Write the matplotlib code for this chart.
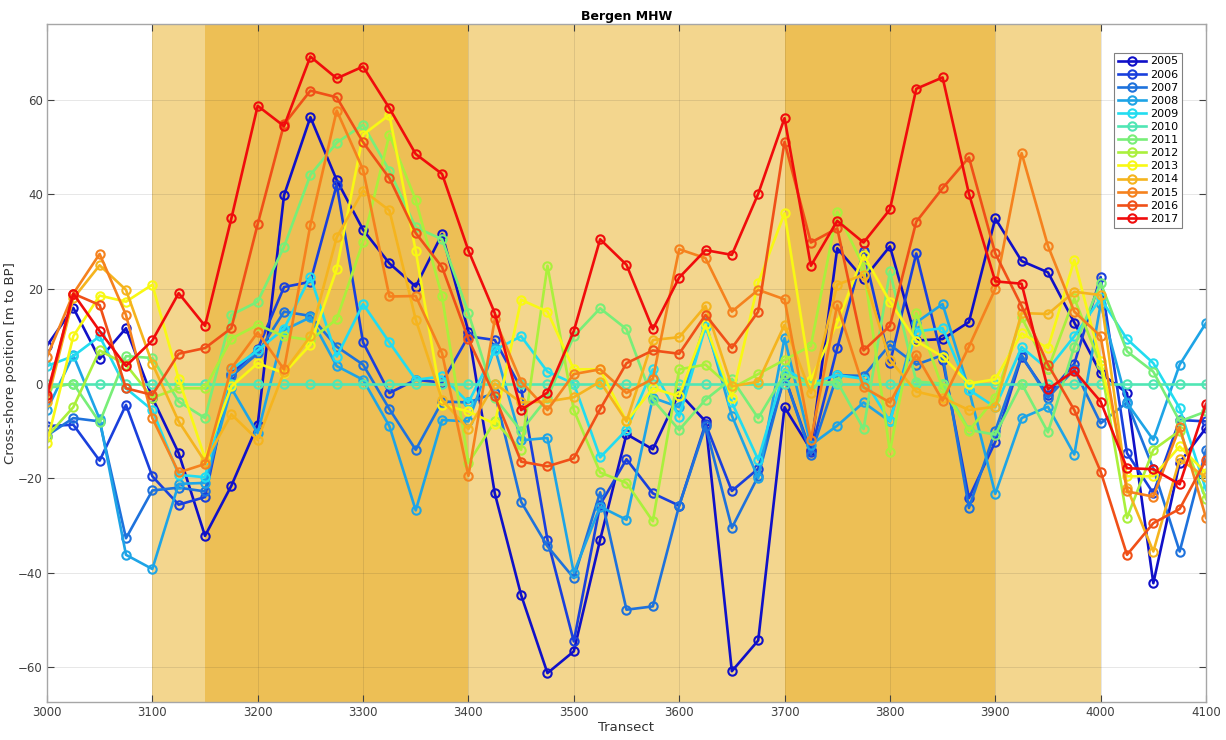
import matplotlib
matplotlib.use("Agg")
import matplotlib.pyplot as plt

# transect numbers along the coast
transects = list(range(3000, 4101, 25))

years = ["2005", "2006", "2007", "2008", "2009", "2010", "2011",
         "2012", "2013", "2014", "2015", "2016", "2017"]

colors = ["#1010c8", "#1a40dc", "#1e72dc", "#1ea4e6", "#22dcf0", "#50e6b4",
          "#78ee78", "#aaf03c", "#f8f814", "#f5b41e", "#f5821e", "#f05018", "#f00c0c"]

# cross-shore MHW position per year [m to BP]
mhw_2005 = [8, 16, 5.2, 11.7, -3, -14.7, -32.2, -21.6, -8.7, 39.8, 56.3, 43, 32.5, 25.4, 20.5,
            31.6, 11, -23.2, -44.7, -61.2, -56.6, -33, -10.7, -13.9, -2, -8, -60.8, -54.3, -5, -14,
            28.6, 22.1, 29, 9.1, 9.4, 13, 34.9, 25.9, 23.5, 12.9, 2.2, -2, -42.2, -16.7, -9.4]
mhw_2006 = [-9, -8.7, -16.3, -4.5, -19.6, -25.6, -24, 2, 7.3, 20.4, 21.5, 42, 8.7, -2, 0.8,
            0.2, 10, 9.2, -1, -33, -54.5, -25.6, -16, -23.2, -25.8, -8.5, -22.7, -18, 1.5, -14.5,
            7.5, 28.1, 4.3, 27.5, 5, -24.2, -12.3, 5.7, -2.4, 4.2, 22.5, -14.7, -23.2, -7.7, -8]
mhw_2007 = [-11, -7.3, -8, -32.7, -22.6, -22, -22.8, 1.5, 6.4, 15.2, 14.3, 7.8, 4, -5.4, -14,
            -3.8, -4, -2, -25, -34.4, -41.1, -23, -47.8, -47.1, -25.8, -9, -30.5, -19.6, 1.5, -15,
            1.8, 1.6, 8.2, 4, 6, -26.3, -10, 6, -3, 3, -8.4, -4, -18, -35.5, -14]
mhw_2008 = [-5.6, 6, -7.5, -36.2, -39.2, -21.2, -21, -1, -10.5, 11.3, 14, 3.7, 0.8, -9, -26.8,
            -7.7, -8, 7.5, -12, -11.5, -40, -26, -28.8, -3, -5, 13, -6.8, -20, 9.6, -13,
            -8.9, -4, -8, 12.9, 16.8, -1.3, -23.3, -7.3, -4.9, -15, 16.8, -4.1, -11.9, 4, 12.8]
mhw_2009 = [3.7, 5.8, 10, -1, -5.6, -19.3, -19.8, 3, 7, 11.6, 22.6, 5.7, 16.8, 8.7, 0.8,
            1.5, -4, 7.1, 10, 2.5, 0, -15.6, -9.8, 3, -7, 12, -4, -16.1, 3, 0,
            1.8, 1, -8, 11, 11.7, -1.3, -5, 7.7, 3, 10, 18, 9.4, 4.3, -5.2, -22.5]
mhw_2010 = [0] * 45
mhw_2011 = [-1, 0, -8.2, 5.8, 5.4, -3.8, -7.3, 14.5, 17.3, 28.9, 44.1, 50.9, 54.7, 45, 33,
            30.5, 14.9, -3, -10, -3, 10, 15.9, 11.5, -3.4, -9.8, -3.4, 1, -7.3, 2, 0,
            0.4, -9.6, 23.7, 0.4, 0, -9.8, -10.8, 0, -10.3, 7.8, 21.3, 6.8, 2.5, -8, -5.9]
mhw_2012 = [-11.2, -5, 7, 4, -3, -1, -1, 9.5, 12.4, 10, 9.2, 13.6, 30, 52.6, 38.8,
            18.4, -16.8, -8, -14, 24.9, -5.6, -18.8, -21, -29.1, 3, 4, -1, 2, 5, 8,
            36.3, 24.7, -14.4, 14.9, -1, -10, -3, 14, 3, 18, 4, -28.4, -14, -10, -24.4]
mhw_2013 = [-12.5, 10, 18.6, 17.3, 20.9, 1, -15.8, -0.6, 4.3, 2.2, 8.2, 24.2, 52.6, 56.8, 28,
            -4.5, -5.9, -8.5, 17.7, 15.2, 3, 3, -8, -1, -2.7, 12.5, -3, 21.3, 36, 0.8,
            12.9, 27.2, 17.3, 9, 5.7, 0, 0.9, 10.6, 7.5, 26.1, 4.7, -19.6, -19.6, -13.3, -18.9]
mhw_2014 = [-4, 18, 25, 19.8, 4.2, -8, -16.5, -6.5, -11.9, 2.5, 10, 30.9, 40.8, 36.6, 13.5,
            -3.5, -9.6, 0, -4, -3.8, -2.9, 0.4, -8, 9.2, 9.8, 16.4, -0.6, 0.4, 12.4, -2,
            20.9, 23, 5, -1.7, -3, -5.6, -4.9, 14.9, 14.7, 19.4, 18.7, -22, -35.5, -16, -19.8]
mhw_2015 = [5.6, 19, 27.4, 14.5, -7.3, -18.8, -17, 3.2, 10.8, 3, 33.5, 57.7, 45.2, 18.4, 18.5,
            6.4, -19.5, 13.6, 0.4, -5.6, 2, 3, -2, 1, 28.4, 26.5, 15.2, 19.8, 17.8, -11.9,
            16.6, -0.8, -4, 6.1, -3.6, 7.8, 20, 48.7, 29.1, 15.2, 10, -22.8, -23.9, -9.2, -28.4]
mhw_2016 = [-3, 19, 16.6, -1, -2.4, 6.3, 7.5, 11.7, 33.7, 54.8, 61.9, 60.5, 51, 43.4, 31.8,
            24.6, 9.4, -2.7, -16.5, -17.5, -15.8, -5.4, 4.3, 7, 6.3, 14.5, 7.5, 15.2, 51.1, 29.8,
            32.8, 7, 12.2, 34.2, 41.3, 47.8, 27.5, 16.4, 4, -5.6, -18.6, -36.2, -29.5, -26.5, -16.1]
mhw_2017 = [-2.4, 19, 11.1, 3.7, 9.1, 19.1, 12.2, 34.9, 58.7, 54.4, 69.1, 64.5, 67, 58.2, 48.5,
            44.3, 28.1, 14.9, -5.6, -1.9, 11.1, 30.5, 25.1, 11.5, 22.4, 28.2, 27.2, 40.1, 56.1, 24.9,
            34.4, 29.8, 36.8, 62.3, 64.7, 40.1, 21.6, 21.1, -1.2, 2.7, -3.8, -17.9, -18.1, -21.3, -4.3]

series = [mhw_2005, mhw_2006, mhw_2007, mhw_2008, mhw_2009, mhw_2010, mhw_2011,
          mhw_2012, mhw_2013, mhw_2014, mhw_2015, mhw_2016, mhw_2017]

# shaded stretches of coast
light_band = (3100, 4000)
dark_bands = [(3150, 3400), (3700, 3900)]

fig = plt.figure(figsize=(12.26, 7.4), dpi=100)
ax = fig.add_axes([0.0383, 0.0514, 0.9454, 0.9162])

ax.axvspan(light_band[0], light_band[1], color="#f3d68e", lw=0, zorder=1)
for b in dark_bands:
    ax.axvspan(b[0], b[1], color="#edbf55", lw=0, zorder=1.1)

for yr, vals, c in zip(years, series, colors):
    ax.plot(transects, vals, "-o", color=c, lw=1.9, ms=6, mfc="none", mew=1.5,
            label=yr, zorder=2)

ax.set_xlim(3000, 4100)
ax.set_ylim(-67.3, 76)
ax.set_xticks(range(3000, 4101, 100))
ax.set_yticks(range(-60, 61, 20))
ax.set_axisbelow("line")
ax.grid(True, color="0.15", alpha=0.13, lw=0.6)
ax.tick_params(direction="in", top=True, right=True, labelsize=8.5,
               colors="0.25", length=5, pad=3)
for s in ax.spines.values():
    s.set_color("0.65")
    s.set_linewidth(1.0)

ax.set_title("Bergen MHW", fontsize=9, fontweight="bold", pad=3)
ax.set_xlabel("Transect", fontsize=9.5, color="0.2", labelpad=1)
ax.set_ylabel("Cross-shore position [m to BP]", fontsize=9.5, color="0.2", labelpad=1)

leg = ax.legend(loc="upper right", bbox_to_anchor=(0.984, 0.966), fontsize=8,
                frameon=True, fancybox=False, edgecolor="0.5", framealpha=1,
                handlelength=2.6, labelspacing=0.28, borderpad=0.35, handletextpad=0.3)
leg.get_frame().set_linewidth(0.8)

fig.savefig("out.png", dpi=100)
